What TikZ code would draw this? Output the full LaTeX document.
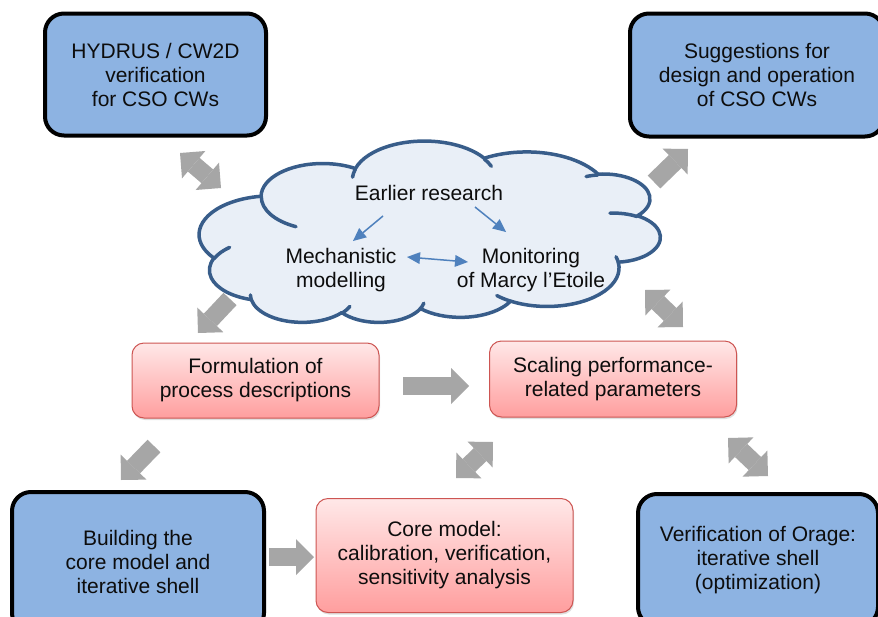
\documentclass[tikz,border=0pt]{standalone}
\usepackage{fontspec}
\setmainfont{Liberation Sans}
\usetikzlibrary{arrows.meta,shadows}
\definecolor{boxblue}{RGB}{141,179,226}
\definecolor{cloudline}{RGB}{56,93,138}
\definecolor{cloudfill}{RGB}{233,239,247}
\definecolor{redtop}{RGB}{255,232,232}
\definecolor{redbot}{RGB}{255,158,158}
\definecolor{redline}{RGB}{205,85,82}
\definecolor{arrgray}{RGB}{166,166,166}
\definecolor{smallblue}{RGB}{79,129,189}
\definecolor{txtcol}{RGB}{13,13,13}
\tikzset{
  gtip/.tip={Triangle[length=18pt,width=36pt,line width=0pt]},
  btip/.tip={Triangle[length=13pt,width=12pt,line width=0pt]},
}
\begin{document}
\begin{tikzpicture}[x=1pt,y=-1pt,
  txt/.style={font=\fontsize{21}{24}\selectfont, align=center, text=txtcol},
  bluebox/.style={txt, draw=black, line width=4pt, fill=boxblue, rounded corners=19pt, inner sep=0pt},
  redbox/.style={txt, draw=redline, line width=1pt, top color=redtop, bottom color=redbot, rounded corners=12pt, inner sep=0pt,
     drop shadow={shadow xshift=1pt, shadow yshift=-2pt, opacity=0.25}},
  blockone/.style={arrgray, line width=18pt, -{gtip}},
  blocktwo/.style={arrgray, line width=18pt, {gtip}-{gtip}},
  smallone/.style={smallblue, line width=1.5pt, -{btip}},
  smalltwo/.style={smallblue, line width=1.5pt, {btip}-{btip}},
  cloudstroke/.style={draw=cloudline, line width=3.5pt, line join=round, line cap=round},
]
\useasboundingbox (0,0) rectangle (878,616);
\fill[white] (0,0) rectangle (878,616);

% cloud (preset cloud outline in a 43200 x 43200 frame, turned by 180 degrees)
\begin{scope}[shift={(660,323)}, x=-0.010671pt, y=0.0041898pt]
  \draw[cloudstroke, fill=cloudfill] (3900,14370)
    \foreach \rw/\rh/\sa/\da in {
      6753/9190/-190.48748/123.78053,
      5333/7267/-144.10238/89.94523,
      4365/5945/-145.80792/99.72302,
      4857/6595/-130.98607/117.24173,
      5333/7273/-78.70888/109.02692,
      6775/9220/-46.26725/130.269,
      5785/7867/0.62502/114.03333,
      6752/9215/22.4516/115.17255,
      7720/10543/66.24263/75.71102,
      4360/5918/-274.94208/146.73557,
      4345/5945/-246.8285/152.51885} {
      arc[start angle={atan2(\rw*sin(\sa),\rh*cos(\sa))},
          delta angle={mod(atan2(\rw*sin(\sa+\da),\rh*cos(\sa+\da))-atan2(\rw*sin(\sa),\rh*cos(\sa))+720,360)},
          x radius=\rw, y radius=\rh]
    } -- cycle;
  \foreach \px/\py/\rw/\rh/\sa/\da in {
      4693/26177/4345/5945/86.742/26.4265,
      6928/34899/4360/5918/73.61047/11.44747,
      16478/39090/6752/9215/137.62415/14.0811,
      28827/34751/6752/9215/6.45327/15.99835,
      34129/22954/5785/7867/-70.29235/70.91737,
      41798/15354/5333/7273/30.31803/27.7515,
      38324/5426/4857/6595/-13.74433/14.86223,
      29078/3952/4857/6595/-149.18145/18.19537,
      22141/4720/4365/5945/-163.49427/17.68635,
      14000/5192/6753/9190/-66.70695/12.31935,
      4127/15789/6753/9190/157.65435/11.85817} {
    \draw[cloudstroke] (\px,\py)
      arc[start angle={atan2(\rw*sin(\sa),\rh*cos(\sa))},
          delta angle={mod(atan2(\rw*sin(\sa+\da),\rh*cos(\sa+\da))-atan2(\rw*sin(\sa),\rh*cos(\sa))+720,360)},
          x radius=\rw, y radius=\rh];
  }
\end{scope}
\node[txt] (earlier) at (429,193) {Earlier research};
\node[txt] (mech) at (341,270) {Mechanistic\\modelling};
\node[txt] (monit) at (531,270) {Monitoring\\of Marcy l’Etoile};

% blue boxes
\node[bluebox, minimum width=221pt, minimum height=122pt] (hyd) at (155.5,74.5) {HYDRUS / CW2D\\verification\\for CSO CWs};
\node[bluebox, minimum width=254pt, minimum height=123pt] (sug) at (757,75) {Suggestions for\\design and operation\\of CSO CWs};
\node[bluebox, minimum width=252pt, minimum height=140pt] (build) at (138,562) {Building the\\core model and\\iterative shell};
\node[bluebox, minimum width=240pt, minimum height=132pt] (verif) at (758,560) {Verification of Orage:\\iterative shell\\(optimization)};

% red boxes
\node[redbox, minimum width=247pt, minimum height=75pt] (form) at (255.5,380.5) {Formulation of\\process descriptions};
\node[redbox, minimum width=247pt, minimum height=76pt] (scal) at (613,379) {Scaling performance-\\related parameters};
\node[redbox, minimum width=257pt, minimum height=114pt] (core) at (444.5,555.5) {Core model:\\calibration, verification,\\sensitivity analysis};

% arrow end points
\coordinate (a1s) at (180,153); \coordinate (a1e) at (221,188);
\coordinate (a2s) at (654,182); \coordinate (a2e) at (688,149);
\coordinate (a3s) at (230,299); \coordinate (a3e) at (198,333);
\coordinate (a4s) at (645,290); \coordinate (a4e) at (683,327);
\coordinate (a5s) at (403,386); \coordinate (a5e) at (469,386);
\coordinate (a6s) at (154,446); \coordinate (a6e) at (121,480);
\coordinate (a7s) at (456,478); \coordinate (a7e) at (493,442);
\coordinate (a8s) at (728,438); \coordinate (a8e) at (768,476);
\coordinate (a9s) at (269,557); \coordinate (a9e) at (314,557);

\draw[blocktwo] (a1s) -- (a1e);
\draw[blockone] (a2s) -- (a2e);
\draw[blockone] (a3s) -- (a3e);
\draw[blocktwo] (a4s) -- (a4e);
\draw[blockone] (a5s) -- (a5e);
\draw[blockone] (a6s) -- (a6e);
\draw[blocktwo] (a7s) -- (a7e);
\draw[blocktwo] (a8s) -- (a8e);
\draw[blockone] (a9s) -- (a9e);

% small arrows in the cloud
\coordinate (b1s) at (383,216); \coordinate (b1e) at (353,241);
\coordinate (b2s) at (475,207); \coordinate (b2e) at (506,232);
\coordinate (b3s) at (407,257); \coordinate (b3e) at (468,262);
\draw[smallone] (b1s) -- (b1e);
\draw[smallone] (b2s) -- (b2e);
\draw[smalltwo] (b3s) -- (b3e);
\end{tikzpicture}
\end{document}
